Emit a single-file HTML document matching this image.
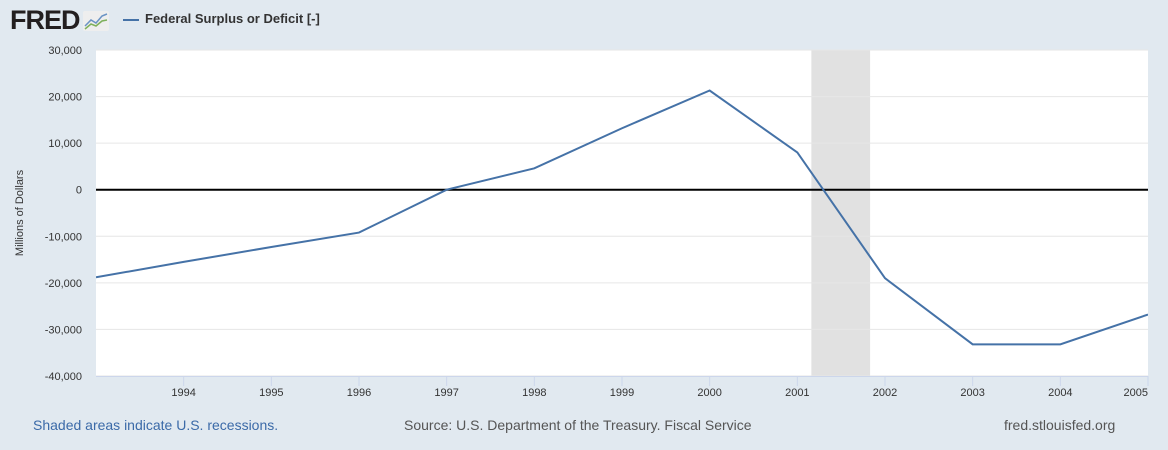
<!DOCTYPE html>
<html><head><meta charset="utf-8"><style>
body{margin:0;width:1168px;height:450px;background:#e1e9f0;font-family:"Liberation Sans",Arial,sans-serif;overflow:hidden;position:relative}
.logo{position:absolute;left:10px;top:5px;font-weight:bold;font-size:27px;letter-spacing:-1px;color:#231f20}
.leg{position:absolute;left:123px;top:11px;font-size:13px;font-weight:bold;color:#333}
.leg span{display:inline-block;width:16px;height:2px;background:#4572a7;vertical-align:middle;margin-right:6px}
.foot{position:absolute;top:417px;font-size:14px}
</style></head><body>
<div class="logo">FRED<svg width="26" height="20" style="margin-left:3px;vertical-align:-2px"><rect width="26" height="20" rx="2" fill="#eee"/><polyline points="2,15 8,9 13,12 19,5 24,3" fill="none" stroke="#6a93c4" stroke-width="1.5"/><polyline points="2,18 8,13 13,15 19,10 24,9" fill="none" stroke="#7eb05b" stroke-width="1.5"/></svg></div>
<div class="leg"><span></span>Federal Surplus or Deficit [-]</div>
<svg id="c" width="1168" height="450" style="position:absolute;left:0;top:0"></svg>
<div class="foot" style="left:33px;color:#3b6aa8">Shaded areas indicate U.S. recessions.</div>
<div class="foot" style="left:404px;color:#555">Source: U.S. Department of the Treasury. Fiscal Service</div>
<div class="foot" style="left:1004px;color:#555">fred.stlouisfed.org</div>
<script>
const years=[1993,1994,1995,1996,1997,1998,1999,2000,2001,2002,2003,2004,2005];
const values=[-18800,-15500,-12300,-9200,0,4600,13200,21300,8000,-19000,-33200,-33200,-26800];
const yTicks=[30000,20000,10000,0,-10000,-20000,-30000,-40000];
const xTicks=[1994,1995,1996,1997,1998,1999,2000,2001,2002,2003,2004,2005];
const recession=[2001.16,2001.83];
const L=96,R=1148,T=50,B=376,x0=1993,x1=2005,y0=-40000,y1=30000;
const X=v=>L+(v-x0)/(x1-x0)*(R-L), Y=v=>B-(v-y0)/(y1-y0)*(B-T);
const s=document.getElementById('c'),NS='http://www.w3.org/2000/svg';
function mk(t,a,p){const e=document.createElementNS(NS,t);for(const k in a)e.setAttribute(k,a[k]);(p||s).appendChild(e);return e;}
const bg=mk('rect',{x:L,y:T,width:R-L,height:B-T,fill:'#fff'});


const rc=mk('rect',{x:X(recession[0]),y:T,width:X(recession[1])-X(recession[0]),height:B-T,fill:'#e1e1e1'});


yTicks.forEach(v=>{
  const g=mk('line',{x1:L,x2:R,y1:Y(v),y2:Y(v),stroke:v===0?'#000':'#e6e6e6','stroke-width':v===0?2:1});
  
  
  const t=mk('text',{x:82,y:Y(v)+4,'text-anchor':'end','font-size':11,fill:'#333','font-family':'Liberation Sans, sans-serif'});
  t.textContent=v.toLocaleString('en-US');
  
  
});
const ax=mk('line',{x1:L,x2:R,y1:B+0.5,y2:B+0.5,stroke:'#ccd6eb'});


xTicks.forEach(v=>{
  const tk=mk('line',{x1:X(v),x2:X(v),y1:B,y2:B+10,stroke:'#ccd6eb'});
  
  
  const last=X(v)>R-15;
  const t=mk('text',{x:last?R:X(v),y:B+20,'text-anchor':last?'end':'middle','font-size':11,fill:'#333','font-family':'Liberation Sans, sans-serif'});
  t.textContent=v;
  
  
});
const yt=mk('text',{x:0,y:0,transform:'translate(23,213) rotate(-90)','text-anchor':'middle','font-size':11,fill:'#333','font-family':'Liberation Sans, sans-serif'});
yt.textContent='Millions of Dollars';


mk('clipPath',{id:'cp'});
mk('rect',{x:L,y:T,width:R-L,height:B-T},s.lastChild);
const ln=mk('polyline',{points:years.map((y,i)=>X(y)+','+Y(values[i])).join(' '),fill:'none',stroke:'#4572a7','stroke-width':2,'clip-path':'url(#cp)'});


</script>
</body></html>
